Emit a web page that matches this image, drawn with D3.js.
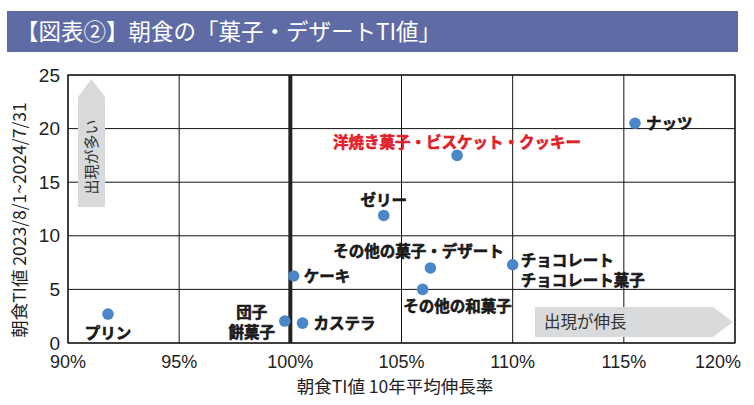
<!DOCTYPE html>
<html><head><meta charset="utf-8">
<script src="https://cdn.jsdelivr.net/npm/d3@7"></script>
<style>
body{margin:0;background:#fff;}
text{font-family:"Noto Sans CJK JP","Noto Sans",sans-serif;}
.num{font-family:"Liberation Sans",Arial,sans-serif;}
</style></head>
<body><svg id="c" width="754" height="405"></svg>
<script>
const names = ["ナッツ","洋焼き菓子・ビスケット・クッキー","ゼリー","その他の菓子・デザート","チョコレート","その他の和菓子","ケーキ","カステラ","団子","プリン"];
const growth = [115.5, 107.5, 104.2, 106.3, 110.0, 105.95, 100.15, 100.55, 99.75, 91.8];
const tiValue = [20.5, 17.5, 11.9, 7.0, 7.3, 5.0, 6.25, 1.85, 2.05, 2.7];
const xTicks = [90, 95, 100, 105, 110, 115, 120];
const yTicks = [0, 5, 10, 15, 20, 25];

const svg = d3.select("#c");
const L = 68, R = 735, T = 75, B = 343;
const x = d3.scaleLinear().domain([90, 120]).range([L, R]);
const y = d3.scaleLinear().domain([0, 25]).range([B, T]);

// title bar
svg.append("rect").attr("x", 7).attr("y", 11).attr("width", 731).attr("height", 41).attr("fill", "#5f6ba4");
svg.append("text").attr("x", 16).attr("y", 40).attr("fill", "#fff").attr("font-size", 22.5)
  .text("【図表②】朝食の「菓子・デザートTI値」");

// grid
const g = svg.append("g");
g.selectAll(".vx").data(xTicks).join("line")
  .attr("x1", d => x(d)).attr("x2", d => x(d)).attr("y1", T).attr("y2", B)
  .attr("stroke", "#111").attr("stroke-width", 1);
g.selectAll(".hy").data(yTicks).join("line")
  .attr("x1", L).attr("x2", R).attr("y1", d => y(d)).attr("y2", d => y(d))
  .attr("stroke", "#111").attr("stroke-width", 1);
g.append("rect").attr("x", L).attr("y", T).attr("width", R - L).attr("height", B - T)
  .attr("fill", "none").attr("stroke", "#111").attr("stroke-width", 1.2);
g.append("line").attr("x1", x(100)).attr("x2", x(100)).attr("y1", T).attr("y2", B)
  .attr("stroke", "#222").attr("stroke-width", 4);

// arrows
const ax = 78, aw = 27;
svg.append("path").attr("fill", "#d9dadc")
  .attr("d", `M${ax},207 L${ax},97 L${ax + aw / 2},79 L${ax + aw},97 L${ax + aw},207 Z`);
svg.append("text").attr("transform", `translate(${ax + aw / 2 + 5},157) rotate(-90)`)
  .attr("text-anchor", "middle").attr("font-size", 15).attr("fill", "#333").text("出現が多い");
svg.append("path").attr("fill", "#d9dadc")
  .attr("d", `M535,307 L713,307 L733,322 L713,337 L535,337 Z`);
svg.append("text").attr("x", 544).attr("y", 328).attr("font-size", 16.5).attr("fill", "#333").text("出現が伸長");

// axes labels
svg.selectAll(".xt").data(xTicks).join("text").attr("class", "num")
  .attr("x", (d, i) => i === xTicks.length - 1 ? 741 : x(d)).attr("y", 368)
  .attr("text-anchor", (d, i) => i === xTicks.length - 1 ? "end" : "middle").attr("font-size", 18)
  .attr("fill", "#222").text(d => d + "%");
svg.selectAll(".yt").data(yTicks).join("text").attr("class", "num")
  .attr("x", 60).attr("y", d => y(d) + 6.5).attr("text-anchor", "end").attr("font-size", 19)
  .attr("fill", "#222").text(d => d);
svg.append("text").attr("x", 395).attr("y", 393).attr("text-anchor", "middle").attr("font-size", 17.5)
  .attr("fill", "#222").text("朝食TI値 10年平均伸長率");
svg.append("text").attr("transform", "translate(26,220) rotate(-90)").attr("text-anchor", "middle")
  .attr("font-size", 17.5).attr("fill", "#222").text("朝食TI値 2023/8/1~2024/7/31");

// points
svg.selectAll(".pt").data(names).join("circle")
  .attr("cx", (d, i) => x(growth[i])).attr("cy", (d, i) => y(tiValue[i])).attr("r", 5.8)
  .attr("fill", "#4a86c8");

// labels: [dx, dy, anchor, lines]
const lab = {
  "ナッツ": [11, 0, "start", ["ナッツ"]],
  "洋焼き菓子・ビスケット・クッキー": [0, -13, "middle", ["洋焼き菓子・ビスケット・クッキー"]],
  "ゼリー": [0, -15, "middle", ["ゼリー"]],
  "その他の菓子・デザート": [-12, -16, "middle", ["その他の菓子・デザート"]],
  "チョコレート": [8, -4, "start", ["チョコレート", "チョコレート菓子"]],
  "その他の和菓子": [35, 17, "middle", ["その他の和菓子"]],
  "ケーキ": [10, 0, "start", ["ケーキ"]],
  "カステラ": [11, 0, "start", ["カステラ"]],
  "団子": [-33, -9, "middle", ["団子", "餅菓子"]],
  "プリン": [0, 19, "middle", ["プリン"]]
};
names.forEach((n, i) => {
  const [dx, dy, anc, lines] = lab[n];
  const col = i === 1 ? "#e0202a" : "#1a1a1a";
  const t = svg.append("text").attr("text-anchor", anc).attr("font-size", 15.5).attr("font-weight", "bold")
    .attr("fill", col).attr("stroke", col).attr("stroke-width", 0.6).attr("stroke-linejoin", "round");
  lines.forEach((s, k) => {
    t.append("tspan").attr("x", x(growth[i]) + dx).attr("y", y(tiValue[i]) + dy + 5.5 + k * 20).text(s);
  });
});
</script></body></html>
